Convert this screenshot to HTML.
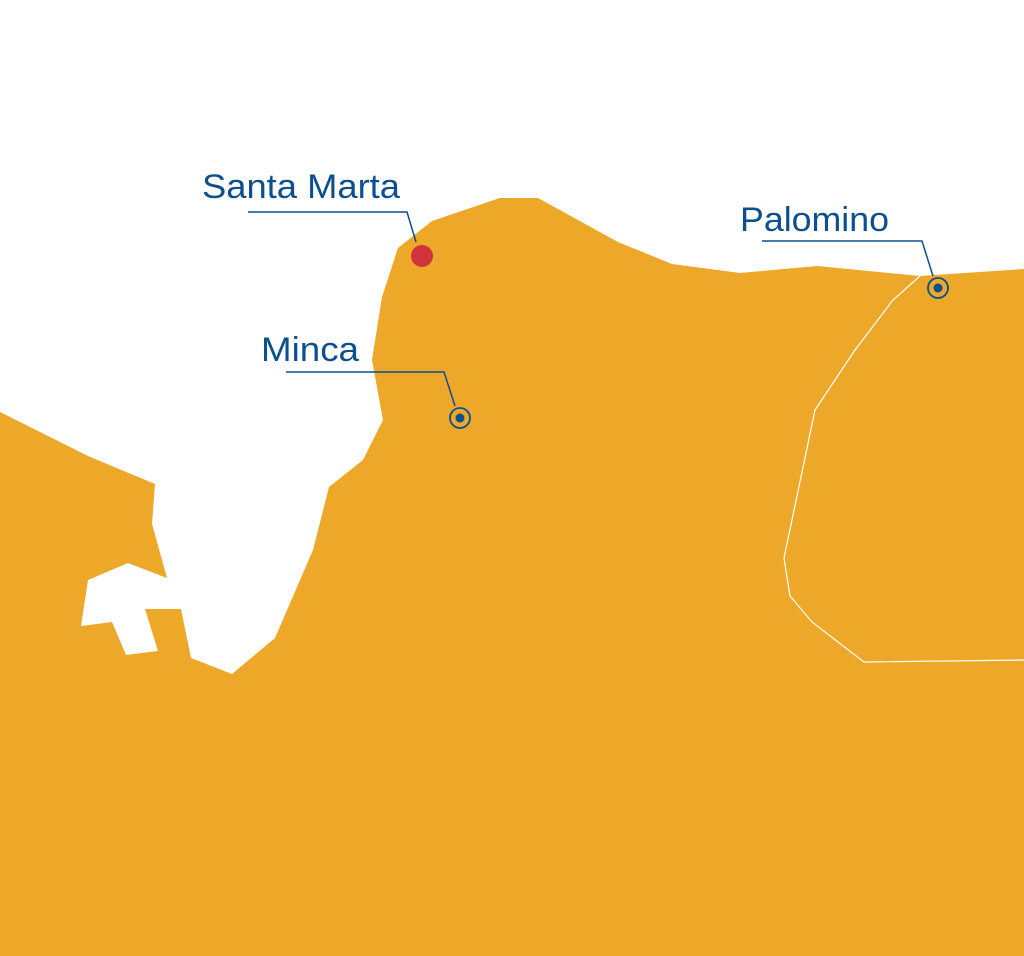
<!DOCTYPE html>
<html><head><meta charset="utf-8"><style>
html,body{margin:0;padding:0;background:#fff;}
svg{display:block}
text{font-family:"Liberation Sans",sans-serif;fill:#0B4F8E;font-size:34px;}
</style></head><body>
<svg width="1024" height="956" viewBox="0 0 1024 956" xmlns="http://www.w3.org/2000/svg">
<rect width="1024" height="956" fill="#fff"/>
<path fill="#EDA82A" d="M0,412 L88,456 L155,484 L152,524 L167,578 L128,563 L88,580 L81,626 L112,622 L126,655 L158,651 L145,609 L181,609 L191,658 L232,674 L275,638 L313,550 L329,487 L363,460 L383,420 L372,360 L382,297 L398,248 L432,221 L500,198 L538,198 L618,242 L672,264 L740,273 L817,266 L920,276 L1024,269 L1024,956 L0,956 Z"/>
<polyline fill="none" stroke="#fff" stroke-width="1.2" points="920,276 893,300 855,350 815,410 784,558 790,596 812,622 864,662 1024,660"/>
<text x="202" y="198" textLength="198" lengthAdjust="spacingAndGlyphs">Santa Marta</text>
<polyline fill="none" stroke="#0B4F8E" stroke-width="1.5" points="248,212 407,212 416,242"/>
<circle cx="422" cy="256" r="11" fill="#D0343A"/>
<text x="261" y="361" textLength="98" lengthAdjust="spacingAndGlyphs">Minca</text>
<polyline fill="none" stroke="#0B4F8E" stroke-width="1.5" points="286,372 444,372 455,406"/>
<circle cx="460" cy="418" r="10" fill="none" stroke="#0B4F8E" stroke-width="1.8"/>
<circle cx="460" cy="418" r="4.5" fill="#0B4F8E"/>
<text x="740" y="231" textLength="149" lengthAdjust="spacingAndGlyphs">Palomino</text>
<polyline fill="none" stroke="#0B4F8E" stroke-width="1.5" points="762,241 922,241 933,276"/>
<circle cx="938" cy="288" r="10" fill="none" stroke="#0B4F8E" stroke-width="1.8"/>
<circle cx="938" cy="288" r="4.5" fill="#0B4F8E"/>
</svg>
</body></html>
